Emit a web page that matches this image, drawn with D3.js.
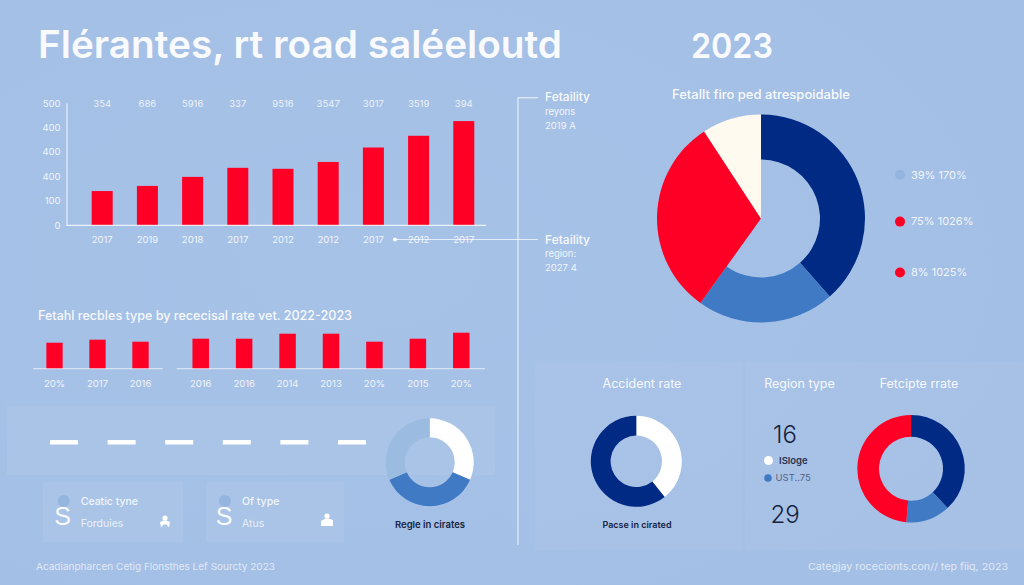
<!DOCTYPE html>
<html><head><meta charset="utf-8">
<script src="https://cdn.jsdelivr.net/npm/d3@7"></script>
<style>html,body{margin:0;padding:0;background:#a5c0e6;overflow:hidden}svg{display:block;font-family:Inter,"Liberation Sans",sans-serif}</style>
</head><body><svg id="c" width="1024" height="585"></svg>
<script>
const mainYears=["2017","2019","2018","2017","2012","2012","2017","2012","2017"];
const mainTop=["354","686","5916","337","9516","3547","3017","3519","394"];
const mainValues=[140,161,198,235,231,259,318,366,426];
const yTicks=[0,100,200,300,400,500];
const yTickLabels=["0","100","400","400","400","500"];
const groupALabels=["20%","2017","2016"];
const groupAValues=[26,29,27];
const groupBLabels=["2016","2016","2014","2013","20%","2015","20%"];
const groupBValues=[30,30,35,35,27,30,36];
const dashes=["a","b","c","d","e","f"];
const mainPie=[38.5,21.4,30.9,9.2];
const mainPieNames=["navy","blue","red","cream"];
const legendLabels=["39% 170%","75% 1026%","8% 1025%"];
const smallPie=[31.5,37,31.5];
const accidentPie=[39.3,60.7];
const ratePie=[38.1,13.3,48.6];
const colors={bg:"#a5c0e6",panel:"#acc6e8",navy:"#012a84",blue:"#4079c4",red:"#fe0026",cream:"#fffaf0",white:"#ffffff",light:"#9cbbe1",dot:"#93b5e0",dark:"#16233f"};
const svg=d3.select("#c");
const defs=svg.append("defs");
const g=defs.append("radialGradient").attr("id","bgg").attr("cx","35%").attr("cy","45%").attr("r","80%");
g.append("stop").attr("offset","0").attr("stop-color","#a7c2e7");
g.append("stop").attr("offset","1").attr("stop-color","#a4bfe5");
svg.append("rect").attr("width",1024).attr("height",585).attr("fill","url(#bgg)");
function text(x,y,s,o={}){return svg.append("text").attr("x",x).attr("y",y).attr("dy","0.35em").attr("text-anchor",o.a||"start").attr("font-size",o.s||11).attr("font-weight",o.w||400).attr("fill",o.c||"#fff").attr("opacity",o.o==null?1:o.o).text(s);}
// panels
[[7,406,488,69,.6],[43,482,140,60,.6],[206,482,138,60,.6],[535,362,207,188,.4],[745,362,279,188,.4]].forEach(p=>svg.append("rect").attr("x",p[0]).attr("y",p[1]).attr("width",p[2]).attr("height",p[3]).attr("fill",colors.panel).attr("opacity",p[4]));
// title
text(38,45,"Flérantes, rt road saléeloutd",{s:38,w:600,o:.93}).attr("textLength",524).attr("lengthAdjust","spacingAndGlyphs");
text(691,46,"2023",{s:34,w:600,o:.93}).attr("textLength",82).attr("lengthAdjust","spacingAndGlyphs");
// main bars
const x=d3.scaleBand().domain(d3.range(mainValues.length)).range([79.5,486.5]).paddingInner(.535).paddingOuter(.27);
const y=d3.scaleLinear().domain([0,500]).range([225.3,103]);
svg.selectAll(".mb").data(mainValues).join("rect").attr("x",(d,i)=>x(i)).attr("width",x.bandwidth()).attr("y",d=>y(d)).attr("height",d=>y(0)-y(d)).attr("fill",colors.red);
const ya=svg.append("g").attr("transform","translate(66.5,0)").call(d3.axisLeft(y).tickValues(yTicks).tickSize(0).tickPadding(6).tickFormat((d,i)=>yTickLabels[i]));
ya.select(".domain").attr("stroke","#fff").attr("stroke-opacity",.75).attr("stroke-width",1.2);
ya.selectAll("text").attr("fill","#fff").attr("font-size",9.5).attr("font-family","Inter").attr("opacity",.85);
const xa=svg.append("g").attr("transform","translate(0,225.3)").call(d3.axisBottom(x).tickSize(0).tickPadding(11).tickFormat(i=>mainYears[i]));
xa.select(".domain").attr("d","M66.5,0H486").attr("stroke","#fff").attr("stroke-opacity",.8).attr("stroke-width",1.2);
xa.selectAll("text").attr("fill","#fff").attr("font-size",9.5).attr("font-family","Inter").attr("opacity",.85);
mainTop.forEach((t,i)=>text(x(i)+x.bandwidth()/2,103.5,t,{a:"middle",s:9.5,o:.8}));
// connectors
const conn=[[518,97.7,518,545],[518,97.7,538,97.7],[395,239.5,538,239.5]];
conn.forEach(l=>svg.append("line").attr("x1",l[0]).attr("y1",l[1]).attr("x2",l[2]).attr("y2",l[3]).attr("stroke","#fff").attr("stroke-opacity",.7).attr("stroke-width",1.2));
svg.append("circle").attr("cx",395).attr("cy",239.5).attr("r",2).attr("fill","#fff");
[["Fetaility",97],["Fetaility",240]].forEach(d=>text(545,d[1],d[0],{s:12,w:500,o:.92}));
[["reyons",112],["2019 A",126],["region:",254],["2027 4",268]].forEach(d=>text(545,d[1],d[0],{s:9.5,o:.85}));
// section
text(38,316,"Fetahl recbles type by rececisal rate vet. 2022-2023",{s:12.5,o:.9,w:500}).attr("textLength",314).attr("lengthAdjust","spacingAndGlyphs");
function smallBars(vals,labs,r0,r1,lineA,lineB){
 const b=d3.scaleBand().domain(d3.range(vals.length)).range([r0,r1]).paddingInner(.62).paddingOuter(.31);
 const v=d3.scaleLinear().domain([0,40]).range([368.7,328.7]);
 svg.selectAll(null).data(vals).join("rect").attr("x",(d,i)=>b(i)).attr("width",b.bandwidth()).attr("y",d=>v(d)).attr("height",d=>v(0)-v(d)).attr("fill",colors.red);
 const a=svg.append("g").attr("transform","translate(0,368.7)").call(d3.axisBottom(b).tickSize(0).tickPadding(12).tickFormat(i=>labs[i]));
 a.select(".domain").attr("d",`M${lineA},0H${lineB}`).attr("stroke","#fff").attr("stroke-opacity",.55).attr("stroke-width",1.2);
 a.selectAll("text").attr("fill","#fff").attr("font-size",9.5).attr("font-family","Inter").attr("opacity",.85);
}
smallBars(groupAValues,groupALabels,33,162,33.3,162.7);
smallBars(groupBValues,groupBLabels,179,483,176.7,485);
// dashes
const dx=d3.scalePoint().domain(dashes).range([64,352]);
svg.selectAll(".d").data(dashes).join("rect").attr("x",d=>dx(d)-14).attr("width",28).attr("y",440).attr("height",4.5).attr("fill","#fff");
// cards
function card(x0,t1,t2,iconX,iconY,iconPath){
 svg.append("circle").attr("cx",x0+20).attr("cy",501).attr("r",6).attr("fill",colors.dot);
 text(x0+19,516,"S",{a:"middle",s:25,o:.92}).attr("font-family","Liberation Sans");
 text(x0+37,501.5,t1,{s:10.5,o:.85,w:500});
 text(x0+37,523,t2,{s:10.5,o:.75});
 const ic=svg.append("g").attr("fill","#fff").attr("transform",`translate(${iconX},${iconY})`);
 ic.append("circle").attr("cy",-4).attr("r",2.6);
 ic.append("path").attr("d",iconPath);
}
card(43.7,"Ceatic tyne","Forduies",165,522,"M-5,0 L-1.5,-1.5 L1.5,-1.5 L5,0 L4,5.5 L1.5,2.5 L-1.5,2.5 L-4,5.5Z");
card(205,"Of type","Atus",327,520,"M-6,1 L-1.5,-1.5 L1.5,-1.5 L6,0 L6,6 L-6,6Z");
// donuts
const pie=d3.pie().sort(null).value(d=>d);
function donut(cx,cy,R,r,vals,cols){
 const gp=svg.append("g").attr("transform",`translate(${cx},${cy})`);
 gp.selectAll("path").data(pie(vals)).join("path").attr("d",(d,i)=>d3.arc().innerRadius(Array.isArray(r)?r[i]:r).outerRadius(R)(d)).attr("fill",(d,i)=>cols[i]);
}
donut(761,218.5,104,[59,59,0,0],mainPie,mainPieNames.map(n=>colors[n]));
text(761,95,"Fetallt firo ped atrespoidable",{a:"middle",s:12.5,w:500,o:.92}).attr("textLength",178).attr("lengthAdjust","spacingAndGlyphs");
const ly=d3.scalePoint().domain(legendLabels).range([174.7,272.5]);
[colors.dot,colors.red,colors.red].forEach((c,i)=>{svg.append("circle").attr("cx",900).attr("cy",ly(legendLabels[i])-(i==1?2:0)).attr("r",5).attr("fill",c);
 text(911,ly(legendLabels[i])-(i==1?2:0),legendLabels[i],{s:11,o:.85});});
donut(429.7,462.3,44,25,smallPie,[colors.white,colors.blue,colors.light]);
text(430,525,"Regle in cirates",{a:"middle",s:9.5,w:600,c:colors.dark});
donut(636.3,461.3,45.5,25.7,accidentPie,[colors.white,colors.navy]);
text(637,524.5,"Pacse in cirated",{a:"middle",s:9,w:600,c:colors.dark});
donut(911,468.7,53.7,32,ratePie,[colors.navy,colors.blue,colors.red]);
text(642,384,"Accident rate",{a:"middle",s:12.5,o:.9});
text(799.5,384,"Region type",{a:"middle",s:12.5,o:.9});
text(919,384,"Fetcipte rrate",{a:"middle",s:12.5,o:.9});
text(785,435,"16",{a:"middle",s:24,w:300,c:colors.dark});
text(785,515,"29",{a:"middle",s:24,w:300,c:colors.dark});
svg.append("circle").attr("cx",768.5).attr("cy",460.5).attr("r",4.5).attr("fill","#fff");
svg.append("circle").attr("cx",768).attr("cy",478).attr("r",3.8).attr("fill",colors.blue);
text(779,461,"ISloge",{s:9.5,w:600,c:colors.dark,o:.9});
text(775.5,478,"UST..75",{s:9.5,c:colors.dark,o:.6});
// footer
text(36,567,"Acadianpharcen Cetig Flonsthes Lef Sourcty 2023",{s:9.5,o:.65}).attr("textLength",239).attr("lengthAdjust","spacingAndGlyphs");
text(1008,567,"Categjay rocecionts.con// tep fiiq, 2023",{a:"end",s:9.5,o:.65}).attr("textLength",200).attr("lengthAdjust","spacingAndGlyphs");
</script></body></html>
